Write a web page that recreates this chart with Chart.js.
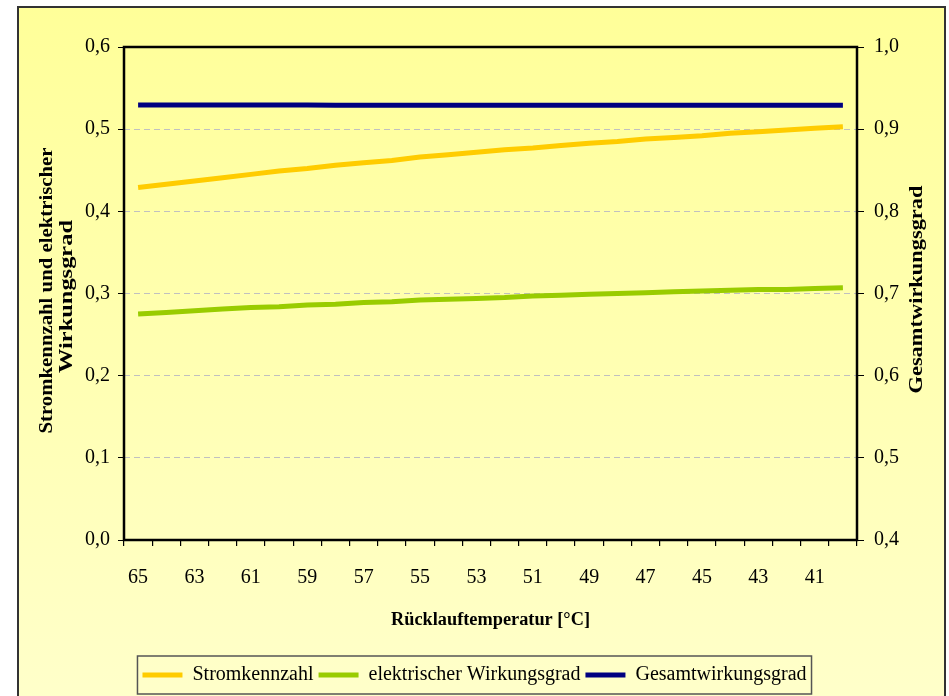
<!DOCTYPE html>
<html lang="de">
<head>
  <meta charset="UTF-8" />
  <title>Stromkennzahl und Wirkungsgrad</title>
  <script src="https://cdn.jsdelivr.net/npm/chart.js"></script>
  <style>
    html, body {
      margin: 0;
      padding: 0;
      background: #fff;
    }
    body {
      width: 949px;
      height: 696px;
      position: relative;
      overflow: hidden;
    }
    .frame {
      position: absolute;
      left: 17px;
      top: 6px;
      width: 925px;
      height: 720px;
      border: 2px solid #333;
      background: linear-gradient(#ffff99, #ffffcc);
    }
    .chart-box {
      position: absolute;
      left: 0;
      top: 0;
      width: 949px;
      height: 696px;
    }
  </style>
</head>
<body>
  <div class="frame"></div>
  <div class="chart-box">
    <canvas id="chart" width="949" height="696"></canvas>
  </div>

  <script>
    // Rücklauftemperatur in °C (x-Achse)
    const temps = [65, 64, 63, 62, 61, 60, 59, 58, 57, 56, 55, 54, 53,
                   52, 51, 50, 49, 48, 47, 46, 45, 44, 43, 42, 41, 40];

    // linke Achse
    const stromkennzahl = [0.429, 0.433, 0.437, 0.441, 0.445, 0.449, 0.452, 0.456, 0.459,
                           0.462, 0.466, 0.469, 0.472, 0.475, 0.477, 0.480, 0.483, 0.485,
                           0.488, 0.490, 0.492, 0.495, 0.497, 0.499, 0.501, 0.503];
    const elWirkungsgrad = [0.275, 0.277, 0.279, 0.281, 0.283, 0.284, 0.286, 0.287, 0.289,
                            0.290, 0.292, 0.293, 0.294, 0.295, 0.297, 0.298, 0.299, 0.300,
                            0.301, 0.302, 0.303, 0.304, 0.305, 0.305, 0.306, 0.307];
    // rechte Achse
    const gesamtWirkungsgrad = [0.9295, 0.9295, 0.9295, 0.9295, 0.9295, 0.9295, 0.9295, 0.929, 0.929,
                                0.929, 0.929, 0.929, 0.929, 0.929, 0.929, 0.929, 0.929, 0.929,
                                0.929, 0.929, 0.929, 0.929, 0.929, 0.929, 0.929, 0.929];

    const FONT = "'Liberation Serif', 'Times New Roman', serif";
    Chart.defaults.font.family = FONT;
    Chart.defaults.color = '#000';

    const fmt = v => Number(v).toFixed(1).replace('.', ',');

    // Text zeichnen, entlang der Schreibrichtung auf eine Länge gestreckt
    function drawText(ctx, text, x, y, rot, font, len) {
      ctx.save();
      ctx.font = font;
      ctx.fillStyle = '#000';
      ctx.textAlign = 'center';
      ctx.textBaseline = 'middle';
      ctx.translate(x, y);
      ctx.rotate(rot);
      const w = ctx.measureText(text).width;
      ctx.scale(len / w, 1);
      ctx.fillText(text, 0, 0);
      ctx.restore();
    }

    // Rahmen, Achsentitel und Legendenkasten
    const decorations = {
      id: 'decorations',
      afterDraw(chart) {
        const ctx = chart.ctx;
        const a = chart.chartArea;
        const midX = (a.left + a.right) / 2;
        const midY = (a.top + a.bottom) / 2;

        ctx.save();
        ctx.strokeStyle = '#000';
        ctx.lineWidth = 2.5;
        ctx.strokeRect(a.left, a.top, a.right - a.left, a.bottom - a.top);
        ctx.restore();

        drawText(ctx, 'Rücklauftemperatur [°C]', midX, a.bottom + 80, 0, 'bold 18px ' + FONT, 199);
        drawText(ctx, 'Stromkennzahl und elektrischer', a.left - 77, midY - 3, -Math.PI / 2, 'bold 18px ' + FONT, 286);
        drawText(ctx, 'Wirkungsgrad', a.left - 57, midY + 3, -Math.PI / 2, 'bold 18px ' + FONT, 153);
        drawText(ctx, 'Gesamtwirkungsgrad', a.right + 60, midY - 4, -Math.PI / 2, 'bold 18px ' + FONT, 208);

        const boxes = chart.legend.legendHitBoxes;
        if (boxes && boxes.length) {
          const left = Math.min(...boxes.map(b => b.left)) - 5;
          const right = Math.max(...boxes.map(b => b.left + b.width)) + 5;
          const top = boxes[0].top - 9;
          const h = boxes[0].height + 18;
          ctx.save();
          ctx.strokeStyle = '#555';
          ctx.lineWidth = 1.5;
          ctx.strokeRect(left, top, right - left, h);
          ctx.restore();
        }
      }
    };

    const ctx = document.getElementById('chart').getContext('2d');
    new Chart(ctx, {
      type: 'line',
      data: {
        labels: temps,
        datasets: [
          {
            label: 'Stromkennzahl',
            data: stromkennzahl,
            borderColor: '#ffcc00',
            backgroundColor: '#ffcc00',
            borderWidth: 5,
            pointRadius: 0,
            yAxisID: 'y'
          },
          {
            label: 'elektrischer Wirkungsgrad',
            data: elWirkungsgrad,
            borderColor: '#99cc00',
            backgroundColor: '#99cc00',
            borderWidth: 5,
            pointRadius: 0,
            yAxisID: 'y'
          },
          {
            label: 'Gesamtwirkungsgrad',
            data: gesamtWirkungsgrad,
            borderColor: '#000080',
            backgroundColor: '#000080',
            borderWidth: 5,
            pointRadius: 0,
            yAxisID: 'y1'
          }
        ]
      },
      options: {
        responsive: false,
        animation: false,
        layout: { padding: { top: 47, bottom: 1, left: 0, right: 0 } },
        plugins: {
          tooltip: { enabled: false },
          legend: {
            position: 'bottom',
            labels: {
              usePointStyle: true,
              pointStyle: 'line',
              pointStyleWidth: 40,
              padding: 5,
              color: '#000',
              font: { size: 20 }
            }
          }
        },
        scales: {
          x: {
            type: 'category',
            offset: true,
            grid: {
              offset: true,
              drawOnChartArea: false,
              drawTicks: true,
              tickLength: 6,
              tickColor: '#000',
              lineWidth: 1.2
            },
            border: { display: false },
            ticks: {
              autoSkip: false,
              maxRotation: 0,
              padding: 20,
              font: { size: 20 },
              callback: (v, i) => (i % 2 === 0 ? temps[i] : '')
            },
            afterFit: s => { s.height = 120; }
          },
          y: {
            position: 'left',
            min: 0,
            max: 0.6,
            grid: {
              color: '#c0c0c0',
              lineWidth: 1,
              tickColor: '#000',
              tickLength: 6
            },
            border: { display: false, dash: [6, 4] },
            ticks: {
              stepSize: 0.1,
              padding: 8,
              font: { size: 20 },
              callback: fmt
            },
            afterFit: s => { s.width = 124; }
          },
          y1: {
            position: 'right',
            min: 0.4,
            max: 1.0,
            grid: {
              drawOnChartArea: false,
              tickColor: '#000',
              tickLength: 7
            },
            border: { display: false },
            ticks: {
              stepSize: 0.1,
              padding: 10,
              font: { size: 20 },
              callback: fmt
            },
            afterFit: s => { s.width = 92; }
          }
        }
      },
      plugins: [decorations]
    });
  </script>
</body>
</html>
